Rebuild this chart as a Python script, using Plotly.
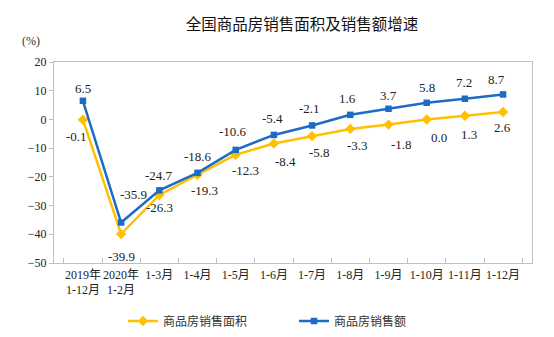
import plotly.graph_objects as go

categories = ["2019年<br>1-12月", "2020年<br>1-2月", "1-3月", "1-4月", "1-5月", "1-6月",
              "1-7月", "1-8月", "1-9月", "1-10月", "1-11月", "1-12月"]
area_growth = [-0.1, -39.9, -26.3, -19.3, -12.3, -8.4, -5.8, -3.3, -1.8, 0.0, 1.3, 2.6]
sales_growth = [6.5, -35.9, -24.7, -18.6, -10.6, -5.4, -2.1, 1.6, 3.7, 5.8, 7.2, 8.7]
area_name = "商品房销售面积"
sales_name = "商品房销售额"

# label offsets (style, in px)
area_shift = [(-6, -17), (0, -22), (0, -13), (7, -16), (10, -16), (12, -18),
              (7, -16), (7, -17), (13, -20), (12, -18), (4, -19), (-1, -16)]
sales_shift = [(0, 12), (12, 28), (0, 15), (0, 16), (-3, 18), (-1, 16),
               (-3, 17), (-3, 16), (0, 13), (0, 15), (-1, 16), (-7, 15)]

YELLOW = "#FFC000"
BLUE = "#1E6BC6"
SERIF = "Liberation Serif, Noto Sans CJK SC, serif"

fig = go.Figure()
fig.add_trace(go.Scatter(x=categories, y=area_growth, name=area_name, mode="lines+markers",
                         line=dict(color=YELLOW, width=2.5),
                         marker=dict(symbol="diamond", size=8, color=YELLOW)))
fig.add_trace(go.Scatter(x=categories, y=sales_growth, name=sales_name, mode="lines+markers",
                         line=dict(color=BLUE, width=2.5),
                         marker=dict(symbol="square", size=6.5, color=BLUE)))

annotations = []
for c, v, (dx, dy) in zip(categories, area_growth, area_shift):
    annotations.append(dict(x=c, y=v, text=f"{v:.1f}", showarrow=False, xshift=dx, yshift=dy,
                            font=dict(family=SERIF, size=13, color="#222")))
for c, v, (dx, dy) in zip(categories, sales_growth, sales_shift):
    annotations.append(dict(x=c, y=v, text=f"{v:.1f}", showarrow=False, xshift=dx, yshift=dy,
                            font=dict(family=SERIF, size=13, color="#222")))
annotations.append(dict(xref="paper", yref="paper", x=(31 - 54) / 478, y=(263 - 41) / 201,
                        xanchor="center", yanchor="middle", text="(%)", showarrow=False,
                        font=dict(family=SERIF, size=12, color="#333")))

fig.update_layout(
    width=554, height=337,
    margin=dict(l=54, r=22, t=62, b=74, autoexpand=False),
    paper_bgcolor="white", plot_bgcolor="white",
    title=dict(text="全国商品房销售面积及销售额增速", x=302 / 554, xanchor="center",
               y=1 - 25 / 337, yanchor="middle",
               font=dict(family="Noto Sans CJK SC", size=15.5, color="#111")),
    showlegend=True,
    legend=dict(orientation="h", x=123 / 554, xanchor="left", xref="container",
                y=1 - 321 / 337, yanchor="middle", yref="container",
                font=dict(family="Noto Sans CJK SC", size=12, color="#333"),
                entrywidth=126, entrywidthmode="pixels", itemwidth=30,
                bgcolor="rgba(0,0,0,0)"),
    annotations=annotations,
)
fig.update_xaxes(type="category", showline=True, linecolor="#BFBFBF", linewidth=1.2, mirror=True,
                 ticks="inside", tickson="boundaries", ticklen=5, tickcolor="#BFBFBF",
                 automargin=False,
                 tickangle=0, showgrid=False, tickfont=dict(family=SERIF, size=12, color="#222"))
fig.update_yaxes(range=[-50, 20], dtick=10, showline=True, linecolor="#BFBFBF", linewidth=1.2,
                 mirror=True, ticks="outside", ticklen=4, tickcolor="#BFBFBF", showgrid=False,
                 automargin=False,
                 zeroline=False, tickfont=dict(family=SERIF, size=12, color="#222"))

fig.write_html("out.html")
